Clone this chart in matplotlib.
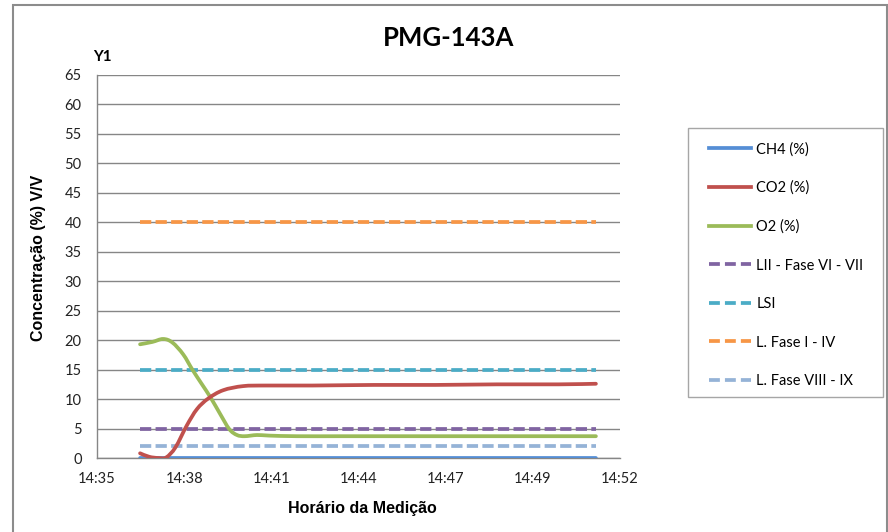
import matplotlib
matplotlib.use("Agg")
import matplotlib.pyplot as plt
from matplotlib.path import Path
from matplotlib.patches import PathPatch, Rectangle
from matplotlib.lines import Line2D
import numpy as np

# ---- data -------------------------------------------------------------
title = "PMG-143A"
x_tick_labels = ["14:35", "14:38", "14:41", "14:44", "14:47", "14:49", "14:52"]

o2_times = ["14:36:24", "14:36:48", "14:37:09", "14:37:27", "14:37:48", "14:38:06",
            "14:38:24", "14:38:42", "14:39:00", "14:39:18", "14:39:33", "14:39:48",
            "14:40:12", "14:40:36", "14:41:30", "14:43:00", "14:45:00", "14:47:00",
            "14:49:00", "14:51:13"]
o2_values = [19.3, 19.7, 20.2, 19.6, 17.6, 15.0, 12.6, 10.2, 7.5, 4.9, 3.9, 3.7,
             3.9, 3.8, 3.7, 3.7, 3.7, 3.7, 3.7, 3.7]

co2_times = ["14:36:24", "14:36:42", "14:37:00", "14:37:15", "14:37:33", "14:37:55",
             "14:38:15", "14:38:37", "14:39:06", "14:39:45", "14:40:30", "14:42:00",
             "14:44:00", "14:46:00", "14:48:00", "14:50:00", "14:51:13"]
co2_values = [0.8, 0.2, 0.0, 0.1, 1.8, 5.5, 8.3, 10.1, 11.5, 12.2, 12.3, 12.3,
              12.4, 12.4, 12.5, 12.5, 12.6]

ch4_times = ["14:36:24", "14:51:13"]
ch4_values = [0.0, 0.0]

limit_times = ["14:36:24", "14:51:13"]
limit_names = ["LII - Fase VI - VII", "LSI", "L. Fase I - IV", "L. Fase VIII - IX"]
limit_values = [5, 15, 40, 2]

# ---- styling ----------------------------------------------------------
C_CH4 = "#558ED5"
C_CO2 = "#C0504D"
C_O2 = "#9BBB59"
limit_colors = ["#8064A2", "#4BACC6", "#F79646", "#95B3D7"]
GRID = "#868686"
LW = 2.7
DASH = (3.0, 1.15)

x_start = "14:35:00"
x_end = "14:52:00"


def to_min(t):
    h, m, s = (int(v) for v in t.split(":"))
    return h * 60 + m + s / 60.0


def smooth_path(xs, ys):
    """Catmull-Rom style cubic Bezier path through the points (Excel smoothing)."""
    pts = np.column_stack([xs, ys]).astype(float)
    n = len(pts)
    verts = [pts[0]]
    codes = [Path.MOVETO]
    for i in range(n - 1):
        p0 = pts[i - 1] if i > 0 else pts[i]
        p1 = pts[i]
        p2 = pts[i + 1]
        p3 = pts[i + 2] if i + 2 < n else pts[i + 1]
        c1 = p1 + (p2 - p0) / 6.0
        c2 = p2 - (p3 - p1) / 6.0
        verts += [c1, c2, p2]
        codes += [Path.CURVE4] * 3
    return Path(verts, codes)


t0 = to_min(x_start)
t1 = to_min(x_end)

fig = plt.figure(figsize=(8.88, 5.32), dpi=100)
ax = fig.add_axes([97 / 888, 1 - 458 / 532, (620 - 97) / 888, (458 - 75) / 532])

ax.set_xlim(0, t1 - t0)
ax.set_ylim(0, 65)
ax.set_yticks(np.arange(0, 66, 5))
ax.set_xticks(np.linspace(0, t1 - t0, len(x_tick_labels)))
ax.set_xticklabels(x_tick_labels)

ax.grid(axis="y", color=GRID, linewidth=1.0)
ax.set_axisbelow(True)
for side in ("top", "right"):
    ax.spines[side].set_visible(False)
for side in ("left", "bottom"):
    ax.spines[side].set_color(GRID)
    ax.spines[side].set_linewidth(1.0)
ax.tick_params(axis="both", length=0, labelsize=10.5, colors="#222222")
ax.tick_params(axis="y", pad=11)
ax.tick_params(axis="x", pad=10)
for lab in ax.get_xticklabels() + ax.get_yticklabels():
    lab.set_family("Lato")

# reference limits (dashed)
lx = [to_min(t) - t0 for t in limit_times]
for val, col in zip(limit_values, limit_colors):
    ax.plot(lx, [val, val], color=col, lw=LW, dashes=DASH,
            dash_capstyle="butt", zorder=3)

# measured series (smoothed)
series = [
    (ch4_times, ch4_values, C_CH4),
    (o2_times, o2_values, C_O2),
    (co2_times, co2_values, C_CO2),
]
for times, vals, col in series:
    xs = [to_min(t) - t0 for t in times]
    patch = PathPatch(smooth_path(xs, vals), fill=False, edgecolor=col,
                      lw=LW, capstyle="round", joinstyle="round", zorder=4)
    ax.add_patch(patch)

# texts
fig.text(449 / 888, 1 - 38 / 532, title, ha="center", va="center",
         fontsize=18.5, fontweight="bold", family="Lato")
fig.text(102 / 888, 1 - 57 / 532, "Y1", ha="center", va="center",
         fontsize=11, fontweight="bold", family="Lato")
fig.text(38 / 888, 1 - 258 / 532, "Concentração (%) V/V", ha="center", va="center",
         rotation=90, fontsize=11.5, fontweight="bold", family="Liberation Sans")
fig.text(362 / 888, 1 - 508 / 532, "Horário da Medição", ha="center", va="center",
         fontsize=11.5, fontweight="bold", family="Liberation Sans")

# legend
handles = [
    Line2D([], [], color=C_CH4, lw=LW),
    Line2D([], [], color=C_CO2, lw=LW),
    Line2D([], [], color=C_O2, lw=LW),
]
labels = ["CH4 (%)", "CO2 (%)", "O2 (%)"]
for name, col in zip(limit_names, limit_colors):
    handles.append(Line2D([], [], color=col, lw=LW, dashes=(2.9, 1.35),
                          dash_capstyle="butt"))
    labels.append(name)

leg = fig.legend(handles, labels, loc="upper left",
                 bbox_to_anchor=(709 / 888, 1 - 142 / 532),
                 prop={"family": "Lato", "size": 10.5},
                 frameon=False, borderpad=0,
                 labelspacing=1.68, handlelength=2.9, handletextpad=0.35,
                 borderaxespad=0)

# legend frame
fig.add_artist(Rectangle((688 / 888, 1 - 397 / 532), 195 / 888, 269 / 532,
                         transform=fig.transFigure, fill=False,
                         edgecolor="#A6A6A6", lw=1.0))

# outer chart border
fig.add_artist(Rectangle((12.5 / 888, -0.02), 874 / 888, (532 - 5) / 532 + 0.02,
                         transform=fig.transFigure, fill=False,
                         edgecolor="#8C8C8C", lw=1.5))

fig.savefig("out.png", dpi=100)
